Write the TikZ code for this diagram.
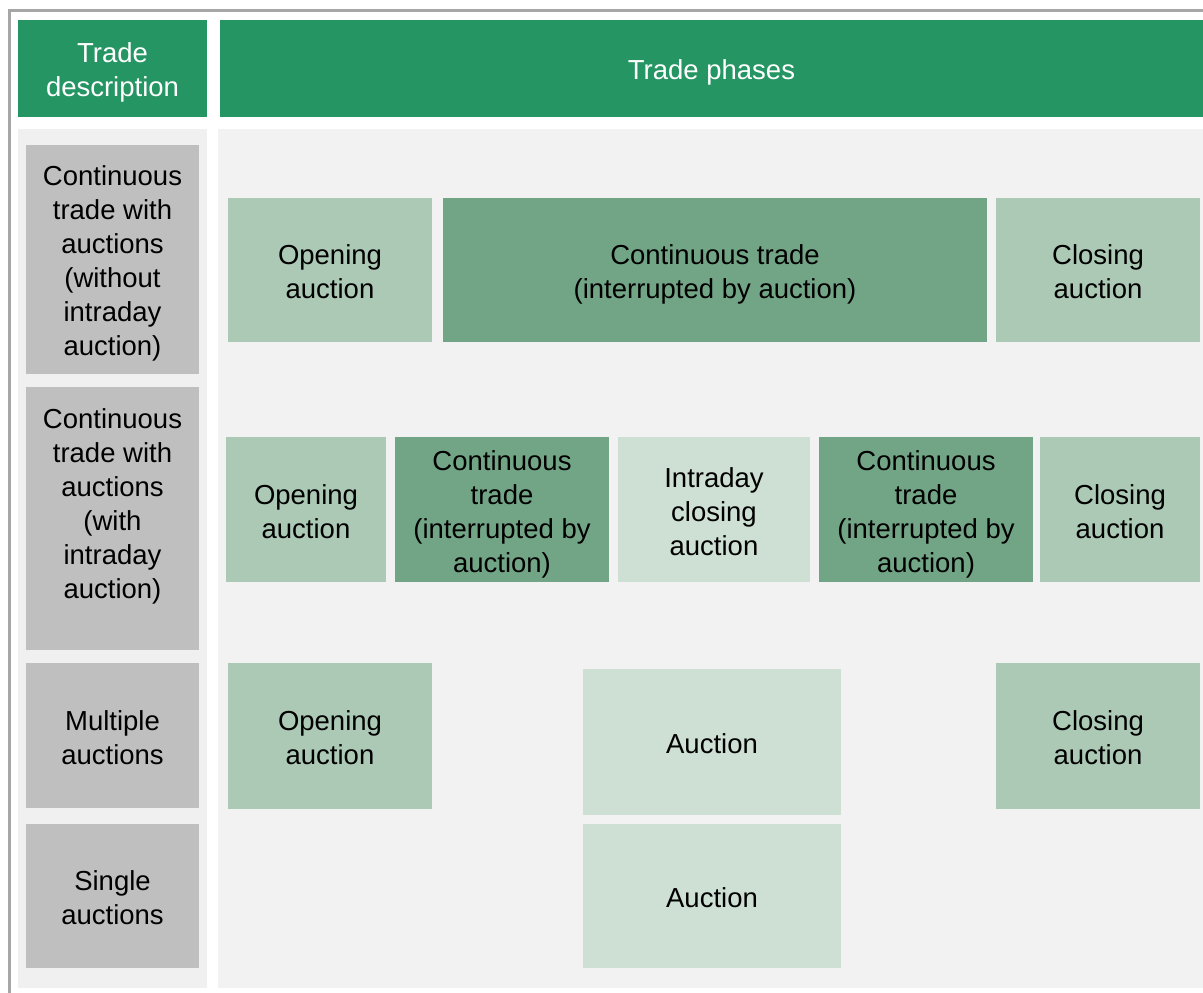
\documentclass[tikz,border=0pt]{standalone}
\usepackage{fontspec}
\setmainfont{Liberation Sans}
\definecolor{hdrgreen}{HTML}{259663}
\definecolor{lightgreen}{HTML}{ABC9B5}
\definecolor{darkgreen}{HTML}{72A586}
\definecolor{palegreen}{HTML}{CEDFD4}
\definecolor{boxgray}{HTML}{BFBFBF}
\definecolor{bgleft}{HTML}{F0F0F0}
\definecolor{bgright}{HTML}{F2F2F2}
\definecolor{framegray}{HTML}{A6A6A6}
\begin{document}
\begin{tikzpicture}[x=1pt,y=-1pt,
  cell/.style={rectangle,inner sep=0pt,outer sep=0pt,draw=none},
  lbl/.style={inner sep=0pt,align=center,font=\fontsize{27.5}{34}\selectfont,
    text=black,text depth=0pt,yshift=-2pt},
  hlbl/.style={lbl,text=white,yshift=0.5pt},
  hdr/.style={cell,fill=hdrgreen},
  bgl/.style={cell,fill=bgleft},
  bgr/.style={cell,fill=bgright},
  desc/.style={cell,fill=boxgray,minimum width=173pt},
  lgbox/.style={cell,fill=lightgreen},
  dgbox/.style={cell,fill=darkgreen},
  pgbox/.style={cell,fill=palegreen}]
\useasboundingbox (0,0) rectangle (1203,993);
\fill[white] (0,0) rectangle (1203,993);
% frame lines
\fill[framegray] (8,9) rectangle (1203,12);
\fill[framegray] (8,9) rectangle (11,993);
% headers
\node[hdr,minimum width=189pt,minimum height=97pt,label={[hlbl]center:{Trade\\description}}] (hdesc) at (112.5,68.5) {};
\node[hdr,minimum width=983pt,minimum height=97pt,label={[hlbl]center:{Trade phases}}] (hphase) at (711.5,68.5) {};
% backgrounds
\node[bgl,minimum width=189pt,minimum height=859pt] (bgL) at (112.5,558.5) {};
\node[bgr,minimum width=985pt,minimum height=859pt] (bgR) at (710.5,558.5) {};
% description boxes
\node[desc,minimum height=229pt,label={[lbl,yshift=1pt]center:{Continuous\\trade with\\auctions\\(without\\intraday\\auction)}}] (g1) at (112.5,259.5) {};
\node[desc,minimum height=263pt,label={[lbl,yshift=16.5pt]center:{Continuous\\trade with\\auctions\\(with\\intraday\\auction)}}] (g2) at (112.5,518.5) {};
\node[desc,minimum height=145pt,label={[lbl]center:{Multiple\\auctions}}] (g3) at (112.5,735.5) {};
\node[desc,minimum height=144pt,label={[lbl]center:{Single\\auctions}}] (g4) at (112.5,896) {};
% row 1
\node[lgbox,minimum width=204pt,minimum height=144pt,label={[lbl]center:{Opening\\auction}}] (r1open) at (330,270) {};
\node[dgbox,minimum width=544pt,minimum height=144pt,label={[lbl]center:{Continuous trade\\(interrupted by auction)}}] (r1cont) at (715,270) {};
\node[lgbox,minimum width=204pt,minimum height=144pt,label={[lbl]center:{Closing\\auction}}] (r1close) at (1098,270) {};
% row 2
\node[lgbox,minimum width=160pt,minimum height=145pt,label={[lbl]center:{Opening\\auction}}] (r2open) at (306,509.5) {};
\node[dgbox,minimum width=214pt,minimum height=145pt,label={[lbl]center:{Continuous\\trade\\(interrupted by\\auction)}}] (r2cont1) at (502,509.5) {};
\node[pgbox,minimum width=192pt,minimum height=145pt,label={[lbl]center:{Intraday\\closing\\auction}}] (r2intra) at (714,509.5) {};
\node[dgbox,minimum width=214pt,minimum height=145pt,label={[lbl]center:{Continuous\\trade\\(interrupted by\\auction)}}] (r2cont2) at (926,509.5) {};
\node[lgbox,minimum width=160pt,minimum height=145pt,label={[lbl]center:{Closing\\auction}}] (r2close) at (1120,509.5) {};
% row 3
\node[lgbox,minimum width=204pt,minimum height=146pt,label={[lbl]center:{Opening\\auction}}] (r3open) at (330,736) {};
\node[pgbox,minimum width=258pt,minimum height=146pt,label={[lbl]center:{Auction}}] (r3auc) at (712,742) {};
\node[lgbox,minimum width=204pt,minimum height=146pt,label={[lbl]center:{Closing\\auction}}] (r3close) at (1098,736) {};
% row 4
\node[pgbox,minimum width=258pt,minimum height=144pt,label={[lbl]center:{Auction}}] (r4auc) at (712,896) {};
\end{tikzpicture}
\end{document}
